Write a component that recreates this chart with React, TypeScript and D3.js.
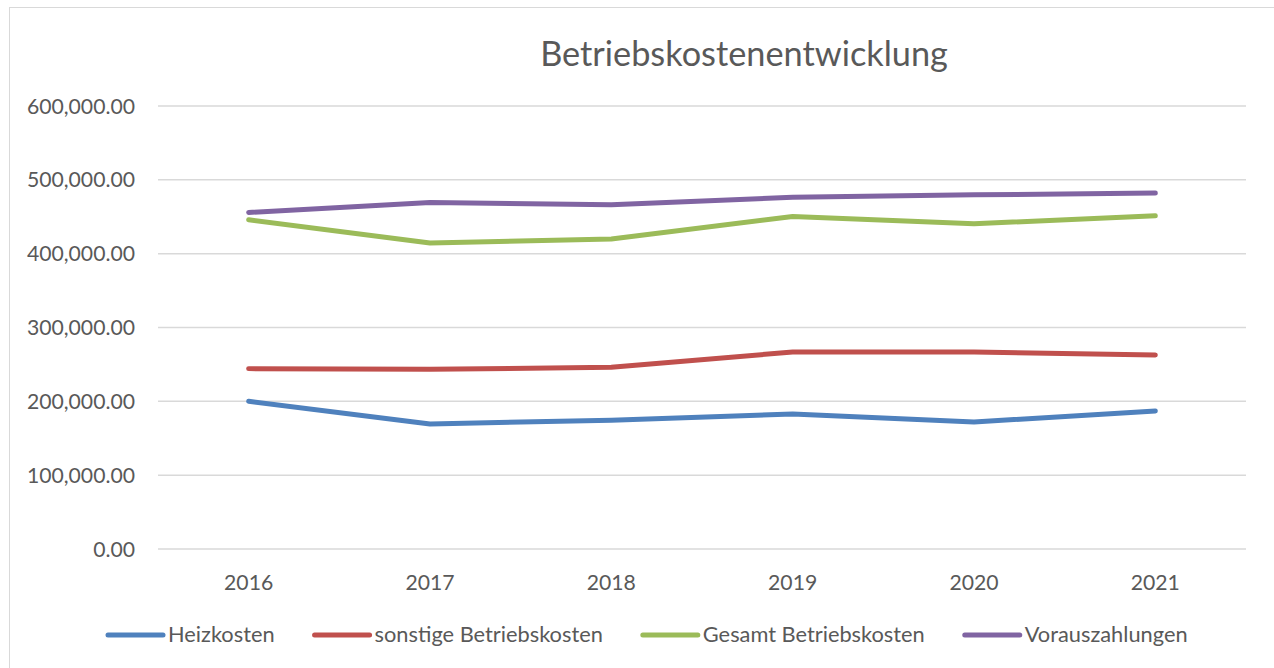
import React, { useRef, useEffect } from "react";
import * as d3 from "d3";

const years = ["2016", "2017", "2018", "2019", "2020", "2021"];

const heizkosten = [200000, 169400, 174300, 182900, 172100, 187000];
const sonstige = [244300, 243400, 246100, 266800, 266800, 262700];
const gesamt = [445900, 414400, 419800, 450400, 440500, 451300];
const vorauszahlungen = [455800, 469400, 466200, 476500, 479700, 482000];

const seriesNames = [
  "Heizkosten",
  "sonstige Betriebskosten",
  "Gesamt Betriebskosten",
  "Vorauszahlungen",
];
const seriesColors = ["#4f81bd", "#c0504d", "#9bbb59", "#8064a2"];

const yTicks = [0, 100000, 200000, 300000, 400000, 500000, 600000];

const W = 1274;
const H = 668;
const FONT = "Lato, 'Open Sans', sans-serif";
const TEXT = "#595959";

const App = () => {
  const ref = useRef<SVGSVGElement>(null);

  useEffect(() => {
    const svg = d3.select(ref.current);
    svg.selectAll("*").remove();

    const series = [heizkosten, sonstige, gesamt, vorauszahlungen];

    const x = d3.scalePoint<string>().domain(years).range([158, 1246]).padding(0.5);
    const y = d3.scaleLinear().domain([0, 600000]).range([549, 106]);

    // chart frame
    svg
      .append("rect")
      .attr("x", 9.5)
      .attr("y", 7.5)
      .attr("width", W + 20)
      .attr("height", H + 20)
      .attr("fill", "#fff")
      .attr("stroke", "#d9d9d9")
      .attr("stroke-width", 1);

    svg
      .append("text")
      .attr("x", 744)
      .attr("y", 66)
      .attr("text-anchor", "middle")
      .attr("font-family", FONT)
      .attr("font-size", 34.3)
      .attr("fill", TEXT)
      .text("Betriebskostenentwicklung");

    // gridlines + y labels
    const fmt = d3.format(",.2f");
    svg
      .append("g")
      .selectAll("line")
      .data(yTicks)
      .join("line")
      .attr("x1", 158)
      .attr("x2", 1246)
      .attr("y1", (d) => y(d))
      .attr("y2", (d) => y(d))
      .attr("stroke", "#d9d9d9")
      .attr("stroke-width", 1.5);

    svg
      .append("g")
      .selectAll("text")
      .data(yTicks)
      .join("text")
      .attr("x", 135)
      .attr("y", (d) => y(d) + 7.5)
      .attr("text-anchor", "end")
      .attr("font-family", FONT)
      .attr("font-size", 21.2)
      .attr("fill", TEXT)
      .text((d) => fmt(d));

    svg
      .append("g")
      .selectAll("text")
      .data(years)
      .join("text")
      .attr("x", (d) => x(d)!)
      .attr("y", 590)
      .attr("text-anchor", "middle")
      .attr("font-family", FONT)
      .attr("font-size", 21.2)
      .attr("fill", TEXT)
      .text((d) => d);

    const line = d3
      .line<number>()
      .x((_, i) => x(years[i])!)
      .y((d) => y(d));

    svg
      .append("g")
      .selectAll("path")
      .data(series)
      .join("path")
      .attr("d", (d) => line(d))
      .attr("fill", "none")
      .attr("stroke", (_, i) => seriesColors[i])
      .attr("stroke-width", 5)
      .attr("stroke-linecap", "round")
      .attr("stroke-linejoin", "round");

    // legend
    let lx = 108;
    seriesNames.forEach((name, i) => {
      const g = svg.append("g");
      g.append("line")
        .attr("x1", lx)
        .attr("x2", lx + 55)
        .attr("y1", 635)
        .attr("y2", 635)
        .attr("stroke", seriesColors[i])
        .attr("stroke-width", 5)
        .attr("stroke-linecap", "round");
      const t = g
        .append("text")
        .attr("x", lx + 60)
        .attr("y", 642)
        .attr("font-family", FONT)
        .attr("font-size", 21.8)
        .attr("fill", TEXT)
        .text(name);
      const w = (t.node() as SVGTextElement).getComputedTextLength();
      lx += 60 + w + 40;
    });
  }, []);

  return (
    <svg
      ref={ref}
      width={W}
      height={H}
      style={{ position: "absolute", left: 0, top: 0 }}
    ></svg>
  );
};

export default App;
